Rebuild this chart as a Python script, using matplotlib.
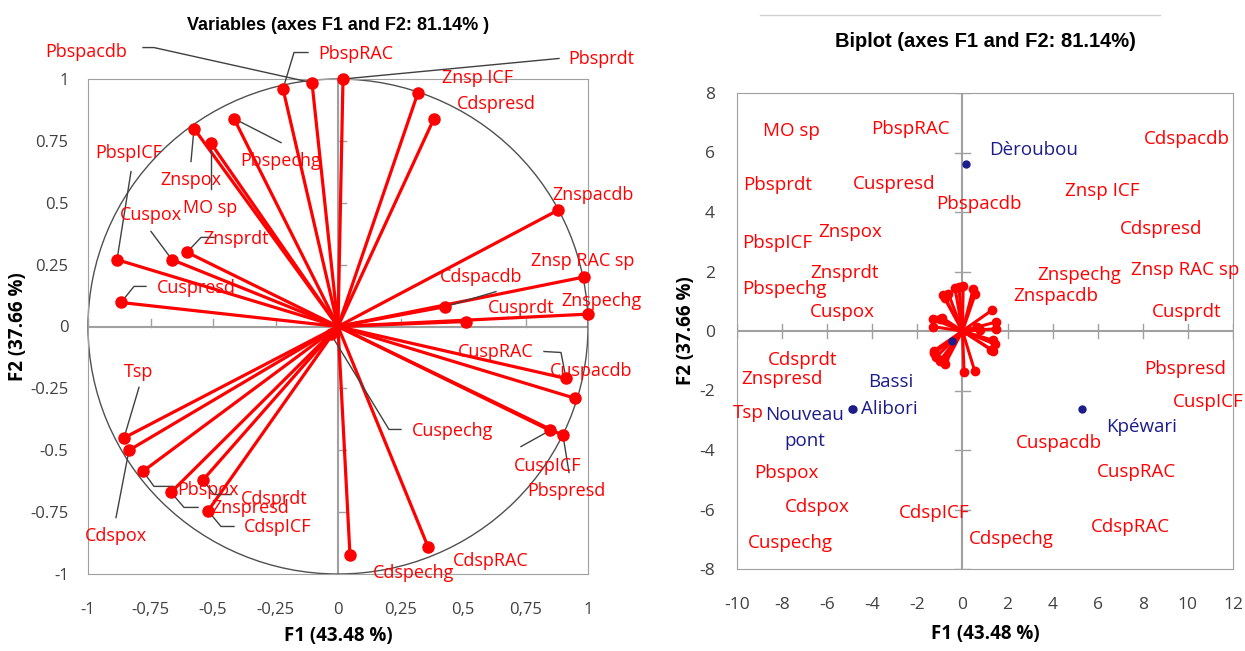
import matplotlib.pyplot as plt
from matplotlib.lines import Line2D
from matplotlib.patches import Circle

plt.rcParams['axes.unicode_minus'] = False
plt.rcParams['font.family'] = ['Open Sans', 'DejaVu Sans']

# correlations of the variables with F1 / F2
variables = ["PbspRAC", "Pbspacdb", "Pbsprdt", "Pbspechg", "Znspox", "MO sp",
             "PbspICF", "Cuspox", "Znsprdt", "Cuspresd", "Znsp ICF", "Cdspresd",
             "Znspacdb", "Znsp RAC sp", "Cdspacdb", "Cusprdt", "Znspechg", "CuspRAC",
             "Cuspacdb", "CuspICF", "Pbspresd", "Cuspechg", "CdspRAC", "Cdspechg",
             "Tsp", "Cdspox", "Pbspox", "Znspresd", "Cdsprdt", "CdspICF"]
f1_corr = [-0.22, -0.104, 0.02, -0.416, -0.576, -0.508,
           -0.884, -0.664, -0.604, -0.868, 0.32, 0.384,
           0.88, 0.984, 0.428, 0.51, 1.0, 0.912,
           0.948, 0.848, 0.90, -0.028, 0.36, 0.048,
           -0.856, -0.836, -0.78, -0.668, -0.54, -0.52]
f2_corr = [0.96, 0.985, 1.0, 0.84, 0.80, 0.74,
           0.27, 0.27, 0.30, 0.097, 0.945, 0.84,
           0.47, 0.20, 0.08, 0.02, 0.05, -0.21,
           -0.29, -0.42, -0.44, -0.032, -0.89, -0.925,
           -0.45, -0.50, -0.585, -0.67, -0.62, -0.745]

# observations (sites) scores
sites = ["Dèroubou", "Bassi", "Alibori", "Nouveau\npont", "Kpéwari"]
site_f1 = [0.15, -0.45, -4.85, -4.9, 5.3]
site_f2 = [5.6, -0.33, -2.61, -2.62, -2.62]

left_ticks = [-1, -0.75, -0.5, -0.25, 0, 0.25, 0.5, 0.75, 1]
left_xlabels = ["-1", "-0,75", "-0,5", "-0,25", "0", "0,25", "0,5", "0,75", "1"]
left_ylabels = ["-1", "-0.75", "-0.5", "-0.25", "0", "0.25", "0.5", "0.75", "1"]
bi_xticks = [-10, -8, -6, -4, -2, 0, 2, 4, 6, 8, 10, 12]
bi_yticks = [-8, -6, -4, -2, 0, 2, 4, 6, 8]

# label placement (layout only)
left_label_xy = {
    "PbspRAC": (0.072, 1.099), "Pbspacdb": (-1.008, 1.11), "Pbsprdt": (1.052, 1.079),
    "Pbspechg": (-0.228, 0.667), "Znspox": (-0.588, 0.59), "MO sp": (-0.512, 0.48),
    "PbspICF": (-0.836, 0.703), "Cuspox": (-0.748, 0.452), "Znsprdt": (-0.408, 0.352),
    "Cuspresd": (-0.568, 0.154), "Znsp ICF": (0.56, 1.006), "Cdspresd": (0.632, 0.897),
    "Znspacdb": (1.02, 0.53), "Znsp RAC sp": (0.98, 0.263), "Cdspacdb": (0.572, 0.202),
    "Cusprdt": (0.732, 0.073), "Znspechg": (1.052, 0.105), "CuspRAC": (0.632, -0.105),
    "Cuspacdb": (1.012, -0.178), "CuspICF": (0.84, -0.562), "Pbspresd": (0.912, -0.663),
    "Cuspechg": (0.46, -0.424), "CdspRAC": (0.612, -0.949), "Cdspechg": (0.304, -0.994),
    "Tsp": (-0.796, -0.182), "Cdspox": (-0.888, -0.848), "Pbspox": (-0.52, -0.659),
    "Znspresd": (-0.352, -0.735), "Cdsprdt": (-0.256, -0.695), "CdspICF": (-0.24, -0.812),
}
left_leaders = {
    "Pbspacdb": [(-0.78, 1.127), (-0.736, 1.127)],
    "Pbsprdt": [(0.884, 1.083)],
    "PbspRAC": [(-0.12, 1.107), (-0.176, 1.107)],
    "Pbspechg": [(-0.228, 0.743)],
    "Znspox": [(-0.588, 0.667)],
    "MO sp": [(-0.508, 0.554)],
    "PbspICF": [(-0.828, 0.626)],
    "Cuspox": [(-0.748, 0.384)],
    "Znsprdt": [(-0.496, 0.36), (-0.548, 0.36)],
    "Cuspresd": [(-0.768, 0.162), (-0.816, 0.162)],
    "Cdspacdb": [(0.632, 0.141)],
    "CuspRAC": [(0.824, -0.101), (0.892, -0.105)],
    "CuspICF": [(0.732, -0.485)],
    "Pbspresd": [(0.924, -0.59)],
    "Cuspechg": [(0.252, -0.416), (0.204, -0.416)],
    "Tsp": [(-0.796, -0.246)],
    "Cdspox": [(-0.888, -0.772)],
    "Pbspox": [(-0.656, -0.646), (-0.736, -0.646)],
    "Znspresd": [(-0.56, -0.731), (-0.616, -0.731)],
    "Cdsprdt": [(-0.428, -0.679), (-0.496, -0.679)],
    "CdspICF": [(-0.416, -0.808), (-0.468, -0.808)],
}
bi_label_xy = {
    "MO sp": (-7.6, 6.72), "PbspRAC": (-2.3, 6.79), "Cdspacdb": (9.96, 6.45),
    "Pbsprdt": (-8.18, 4.91), "Cuspresd": (-3.02, 4.94), "Pbspacdb": (0.71, 4.27),
    "Znsp ICF": (6.18, 4.71), "Cdspresd": (8.8, 3.43), "Znspox": (-4.98, 3.33),
    "PbspICF": (-8.2, 2.96), "Znsprdt": (-5.24, 1.94), "Znspechg": (5.16, 1.88),
    "Znsp RAC sp": (9.87, 2.05), "Pbspechg": (-7.9, 1.41), "Znspacdb": (4.13, 1.18),
    "Cuspox": (-5.33, 0.64), "Cusprdt": (9.96, 0.64), "Cdsprdt": (-7.1, -0.97),
    "Znspresd": (-8.02, -1.61), "Pbspresd": (9.87, -1.28), "CuspICF": (10.9, -2.39),
    "Tsp": (-9.5, -2.75), "Cuspacdb": (4.3, -3.76), "CuspRAC": (7.7, -4.74),
    "Pbspox": (-7.8, -4.78), "Cdspox": (-6.45, -5.9), "CdspICF": (-1.24, -6.13),
    "CdspRAC": (7.47, -6.58), "Cuspechg": (-7.64, -7.13), "Cdspechg": (2.18, -7.0),
}
site_label_xy = {
    "Dèroubou": (3.15, 6.08), "Bassi": (-3.2, -1.7), "Alibori": (-3.25, -2.62),
    "Nouveau\npont": (-7.0, -3.26), "Kpéwari": (7.95, -3.22),
}
bi_scale = 1.5  # vector length in the biplot

RED = "#FF0000"
NAVY = "#1C1C8A"
GREY = "#A0A0A0"
TICKC = "#404040"

fig = plt.figure(figsize=(12.45, 6.51), dpi=100)

# ---------------- correlation circle ----------------
ax = fig.add_axes([88 / 1245, 77 / 651, 500 / 1245, 495 / 651])
ax.set_xlim(-1, 1)
ax.set_ylim(-1, 1)
ax.add_patch(Circle((0, 0), 1, fill=False, ec="#505050", lw=1, clip_on=False, zorder=2))
ax.axhline(0, color=GREY, lw=1.5, zorder=1)
ax.axvline(0, color=GREY, lw=1.5, zorder=1)
for t in left_ticks:
    if t != 0:
        ax.plot([t, t], [0, 0.03], color=GREY, lw=1, zorder=1)
        ax.plot([0, 0.03], [t, t], color=GREY, lw=1, zorder=1)

for name, x, y in zip(variables, f1_corr, f2_corr):
    ax.plot([0, x], [0, y], color=RED, lw=2.3, zorder=3, clip_on=False)
    ax.plot(x, y, "o", color=RED, ms=8, zorder=4, clip_on=False)
    if name in left_leaders:
        pts = left_leaders[name] + [(x, y)]
        ax.plot([p[0] for p in pts], [p[1] for p in pts], color="#404040", lw=1,
                zorder=3.5, clip_on=False)
    lx, ly = left_label_xy[name]
    ax.text(lx, ly, name, color=RED, fontsize=13, ha="center", va="center",
            zorder=5, clip_on=False)

ax.set_xticks(left_ticks)
ax.set_xticklabels(left_xlabels)
ax.set_yticks(left_ticks)
ax.set_yticklabels(left_ylabels)
ax.tick_params(length=0, labelsize=12, labelcolor=TICKC)
ax.tick_params(axis="x", pad=20)
ax.tick_params(axis="y", pad=14)
for s in ax.spines.values():
    s.set_color(GREY)
ax.set_xlabel("F1 (43.48 %)", fontsize=13.5, fontweight="bold", labelpad=6)
ax.set_ylabel("F2 (37.66 %)", fontsize=13.5, fontweight="bold", labelpad=2)
ax.set_title("Variables (axes F1 and F2: 81.14% )", fontsize=13, fontweight="bold",
             family=["Liberation Sans Narrow", "Liberation Sans"], pad=35)

# ---------------- biplot ----------------
bx = fig.add_axes([737 / 1245, 82 / 651, 496 / 1245, 476 / 651])
bx.set_xlim(-10, 12)
bx.set_ylim(-8, 8)
bx.axhline(0, color=GREY, lw=1.5, zorder=1)
bx.axvline(0, color=GREY, lw=1.5, zorder=1)
for t in bi_xticks:
    if t != 0:
        bx.plot([t, t], [-0.25, 0.25], color=GREY, lw=1, zorder=1)
for t in bi_yticks:
    if t != 0:
        bx.plot([-0.35, 0.35], [t, t], color=GREY, lw=1, zorder=1)

for name, x, y in zip(variables, f1_corr, f2_corr):
    bx.plot([0, x * bi_scale], [0, y * bi_scale], color=RED, lw=2.2, zorder=3)
    bx.plot(x * bi_scale, y * bi_scale, "o", color=RED, ms=6, zorder=4)
    lx, ly = bi_label_xy[name]
    bx.text(lx, ly, name, color=RED, fontsize=13.5, ha="center", va="center",
            zorder=5, clip_on=False)

for name, x, y in zip(sites, site_f1, site_f2):
    bx.plot(x, y, "o", color=NAVY, ms=5, zorder=6)
    lx, ly = site_label_xy[name]
    bx.text(lx, ly, name, color=NAVY, fontsize=13.5, ha="center", va="center",
            zorder=6, linespacing=1.6)

bx.set_xticks(bi_xticks)
bx.set_yticks(bi_yticks)
bx.tick_params(length=0, labelsize=12.5, labelcolor=TICKC)
bx.tick_params(axis="x", pad=20)
bx.tick_params(axis="y", pad=16)
for s in bx.spines.values():
    s.set_color(GREY)
bx.set_xlabel("F1 (43.48 %)", fontsize=13.5, fontweight="bold", labelpad=8)
bx.set_ylabel("F2 (37.66 %)", fontsize=13.5, fontweight="bold", labelpad=2)
bx.set_title("Biplot (axes F1 and F2: 81.14%)", fontsize=14.5, fontweight="bold",
             family=["Liberation Sans"], pad=33)

fig.add_artist(Line2D([760 / 1245, 1160 / 1245], [1 - 15 / 651, 1 - 15 / 651],
                      color="#D0D0D0", lw=1))

fig.savefig("out.png", dpi=100)
